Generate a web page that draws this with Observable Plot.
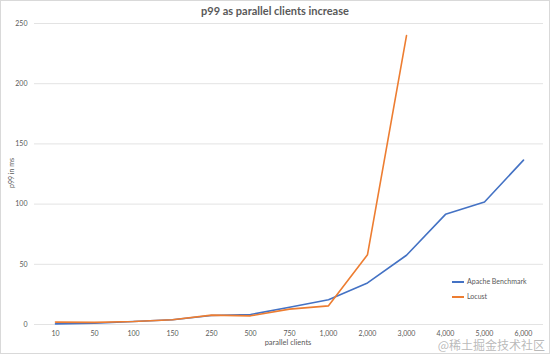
<!DOCTYPE html>
<html>
<head>
<meta charset="utf-8">
<script src="https://cdn.jsdelivr.net/npm/d3@7"></script>
<script src="https://cdn.jsdelivr.net/npm/@observablehq/plot@0.6"></script>
<style>
  html, body { margin: 0; padding: 0; background: #fff; }
  #chart { width: 550px; height: 354px; }
</style>
</head>
<body>
<div id="chart"></div>
<script>
const title = "p99 as parallel clients increase";
const xLabel = "parallel clients";
const yLabel = "p99 in ms";
const clients = ["10", "50", "100", "150", "250", "500", "750", "1,000", "2,000", "3,000", "4,000", "5,000", "6,000"];
const apacheBenchmark = [0.5, 1, 2.5, 4, 7.5, 8.3, 14.4, 20.5, 34.5, 57.5, 91.5, 101.8, 136.5];
const locust = [2, 1.8, 2.5, 4, 7.8, 7.2, 12.8, 15.5, 58, 240];
const seriesNames = ["Apache Benchmark", "Locust"];
const seriesColors = ["#4472C4", "#ED7D31"];
const yTicks = [0, 50, 100, 150, 200, 250];
const watermark = "@稀土掘金技术社区";

const rows = [];
apacheBenchmark.forEach((v, i) => rows.push({clients: clients[i], value: v, series: seriesNames[0]}));
locust.forEach((v, i) => rows.push({clients: clients[i], value: v, series: seriesNames[1]}));

const W = 550, H = 354;
const plot = Plot.plot({
  width: W,
  height: H,
  marginLeft: 34,
  marginRight: 7,
  marginTop: 23,
  marginBottom: 30,
  style: {fontFamily: "Lato, sans-serif", fontSize: "7px", color: "#595959", background: "#fff"},
  x: {type: "point", domain: clients, padding: 0.5, label: null, tickSize: 0, tickPadding: 7},
  y: {domain: [0, 250], ticks: yTicks, label: null, tickSize: 0, tickPadding: 7},
  color: {domain: seriesNames, range: seriesColors},
  marks: [
    Plot.gridY(yTicks, {stroke: "#e3e3e3", strokeOpacity: 1, strokeWidth: 1}),
    Plot.line(rows, {x: "clients", y: "value", z: "series", stroke: "series", strokeWidth: 1.6}),
  ]
});
document.getElementById("chart").appendChild(plot);

const svg = d3.select(plot);
svg.append("rect").attr("x", 0.5).attr("y", 0.5).attr("width", W - 1).attr("height", H - 1)
  .attr("fill", "none").attr("stroke", "#d9d9d9");
svg.append("text").attr("x", 275).attr("y", 15).attr("text-anchor", "middle")
  .attr("font-size", 11).attr("font-weight", "bold").attr("fill", "#595959").text(title);
svg.append("text").attr("x", 288).attr("y", 345).attr("text-anchor", "middle")
  .attr("font-size", 7.5).attr("fill", "#595959").text(xLabel);
svg.append("text").attr("transform", "translate(14,173) rotate(-90)").attr("text-anchor", "middle")
  .attr("font-size", 7).attr("fill", "#595959").text(yLabel);

const legend = svg.append("g");
seriesNames.forEach((name, i) => {
  const y = 282 + i * 15;
  legend.append("line").attr("x1", 452).attr("x2", 464).attr("y1", y).attr("y2", y)
    .attr("stroke", seriesColors[i]).attr("stroke-width", 2);
  legend.append("text").attr("x", 467).attr("y", y).attr("dy", "0.35em").attr("text-anchor", "start")
    .attr("font-size", 7).attr("fill", "#595959").text(name);
});
svg.append("text").attr("x", 545).attr("y", 350).attr("text-anchor", "end")
  .attr("font-size", 12).attr("fill", "#8a8a8a").attr("fill-opacity", 0.6)
  .attr("font-family", "Noto Sans CJK SC").text(watermark);
</script>
</body>
</html>
